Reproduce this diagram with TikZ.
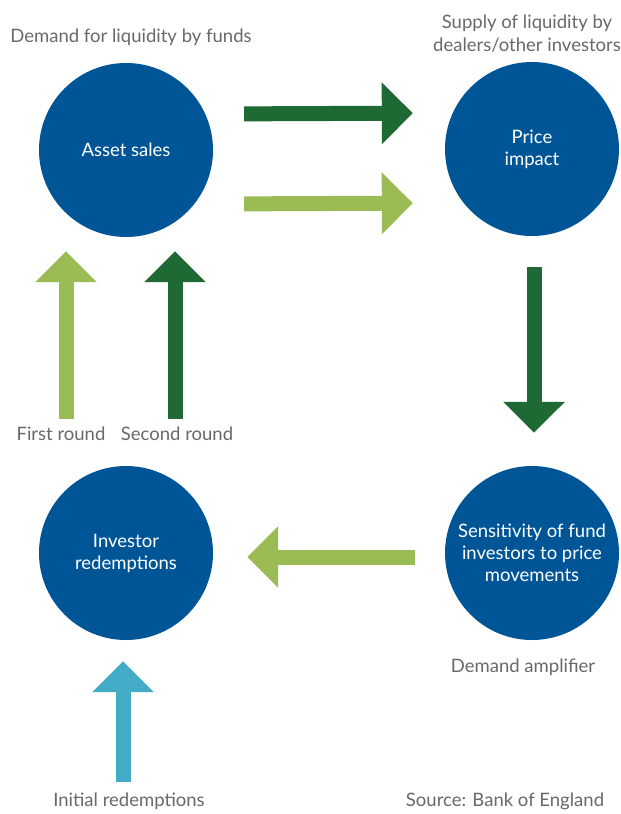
\documentclass[tikz,border=0pt]{standalone}
\usepackage{fontspec}
\setmainfont{Lato}
\usetikzlibrary{arrows.meta, positioning}

\definecolor{boeblue}{RGB}{0,85,150}
\definecolor{darkgreen}{RGB}{30,105,52}
\definecolor{lightgreen}{RGB}{155,187,85}
\definecolor{teal}{RGB}{66,171,197}
\definecolor{labelgray}{RGB}{105,105,108}

\tikzset{
  bubble/.style={circle, fill=boeblue, minimum size=174pt, inner sep=0pt,
    text=white, align=center, font=\fontsize{18.5}{22}\selectfont},
  caption/.style={text=labelgray, align=center, inner sep=0pt,
    font=\fontsize{18.5}{23}\selectfont},
  fatarrow/.style={line width=15pt, -{Triangle[width=60pt,length=31pt]}},
}

\begin{document}
\begin{tikzpicture}[x=1pt, y=-1pt]
  \useasboundingbox[fill=white] (0,0) rectangle (621,814);

  % the four stages of the loop
  \node[bubble] (sales) at (126,150) {Asset sales};
  \node[bubble] (price) at (532,149) {Price\\impact};
  \node[bubble] (sensi) at (532,553) {Sensitivity of fund\\investors to price\\movements};
  \node[bubble] (invest) at (126,553) {Investor\\redemptions};

  % captions
  \node[caption] (demand) at (131,37) {Demand for liquidity by funds};
  \node[caption] (supply) at (527,34) {Supply of liquidity by\\dealers/other investors};
  \node[caption] (first) at (61,434) {First round};
  \node[caption] (second) at (177,434) {Second round};
  \node[caption] (amplifier) at (523,667) {Demand amplifier};
  \node[caption] (initial) at (129,801) {Initial redemptions};
  \node[caption] (source) at (505,801) {Source: Bank of England};

  % rounds of selling
  \draw[fatarrow, darkgreen, shorten <=31pt, shorten >=32pt]
    ([yshift=36pt]sales.east) -- ([yshift=36pt]price.west);
  \draw[fatarrow, lightgreen, shorten <=31pt, shorten >=32pt]
    ([yshift=-54pt]sales.east) -- ([yshift=-54pt]price.west);
  \draw[fatarrow, darkgreen, shorten <=31pt, shorten >=33pt]
    ([xshift=2pt]price.south) -- ([xshift=2pt]sensi.north);
  \draw[fatarrow, lightgreen, shorten <=30pt, shorten >=34pt]
    ([yshift=-4pt]sensi.west) -- ([yshift=-4pt]invest.east);
  \draw[fatarrow, lightgreen, shorten <=8pt, shorten >=14pt]
    ([xshift=5pt]first.north) -- ([xshift=-60pt]sales.south);
  \draw[fatarrow, darkgreen, shorten <=8pt, shorten >=14pt]
    ([xshift=-2pt]second.north) -- ([xshift=49pt]sales.south);
  \draw[fatarrow, teal, shorten <=10pt, shorten >=21pt]
    ([xshift=-6pt]initial.north) -- ([xshift=-3pt]invest.south);
\end{tikzpicture}
\end{document}
